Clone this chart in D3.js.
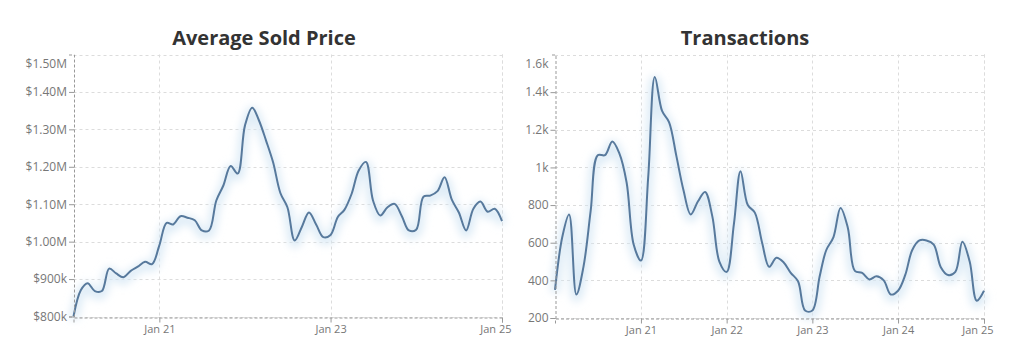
<!DOCTYPE html>
<html>
<head>
<meta charset="utf-8">
<script src="https://cdn.jsdelivr.net/npm/d3@7"></script>
<style>
  html, body { margin: 0; padding: 0; background: #fff; }
  svg { display: block; font-family: "Open Sans", sans-serif; }
</style>
</head>
<body>
<svg id="chart" width="1024" height="343"></svg>
<script>
// Monthly series, Jan 2020 – Jan 2025
const startMonth = new Date(2020, 0, 1);

// Average sold price, in $k
const priceValues = [
  800, 870, 889, 868, 868, 928, 915, 905, 922, 933, 946, 940,
  990, 1050, 1046, 1068, 1064, 1057, 1030, 1030, 1110, 1150, 1202, 1182,
  1310, 1358, 1325, 1270, 1212, 1130, 1092, 1003, 1040, 1078, 1045, 1012,
  1018, 1066, 1085, 1128, 1190, 1213, 1110, 1070, 1092, 1101, 1068, 1030,
  1032, 1120, 1123, 1135, 1172, 1112, 1078, 1030, 1088, 1107, 1080, 1088,
  1055
];

// Number of transactions
const transactionValues = [
  350, 630, 750, 325, 470, 770, 1065, 1065, 1138, 1075, 920, 590,
  505, 950, 1480, 1300, 1240, 1060, 880, 750, 820, 870, 740, 500,
  445, 700, 980, 800, 760, 600, 472, 520, 495, 440, 395, 240,
  240, 420, 560, 630, 785, 680, 450, 440, 405, 422, 400, 325,
  345, 430, 560, 612, 612, 590, 470, 428, 445, 605, 500, 292,
  345
];

const priceTicks = [800, 900, 1000, 1100, 1200, 1300, 1400, 1500];
const priceTickLabels = ["$800k", "$900k", "$1.00M", "$1.10M", "$1.20M", "$1.30M", "$1.40M", "$1.50M"];
const transactionTicks = [200, 400, 600, 800, 1000, 1200, 1400, 1600];
const transactionTickLabels = ["200", "400", "600", "800", "1k", "1.2k", "1.4k", "1.6k"];

const priceDateTicks = [new Date(2021, 0, 1), new Date(2023, 0, 1), new Date(2025, 0, 1)];
const transactionDateTicks = [2021, 2022, 2023, 2024, 2025].map(y => new Date(y, 0, 1));
const dateTickFormat = d3.timeFormat("Jan %y");

const svg = d3.select("#chart");

// Soft glow under the lines
const defs = svg.append("defs");
const glow = defs.append("filter").attr("id", "glow")
  .attr("x", "-10%").attr("y", "-20%").attr("width", "120%").attr("height", "140%");
glow.append("feGaussianBlur").attr("stdDeviation", 4);

function drawPanel(opts) {
  const { left, right, top, bottom, yMin, yMax, values, yTicks, yLabels, xTicks, title, titleX } = opts;
  const dates = values.map((_, i) => d3.timeMonth.offset(startMonth, i));
  const x = d3.scaleTime().domain([startMonth, new Date(2025, 0, 1)]).range([left, right]);
  const y = d3.scaleLinear().domain([yMin, yMax]).range([bottom, top]);
  const g = svg.append("g");

  // Title
  g.append("text")
    .attr("x", titleX).attr("y", 45)
    .attr("text-anchor", "middle")
    .attr("font-size", 20).attr("font-weight", 700)
    .attr("fill", "#333")
    .text(title);

  // Grid
  const grid = g.append("g").attr("stroke", "#dcdcdc").attr("stroke-dasharray", "3,3").attr("stroke-width", 1);
  yTicks.forEach(v => {
    grid.append("line").attr("x1", left).attr("x2", right)
      .attr("y1", Math.round(y(v)) + 0.5).attr("y2", Math.round(y(v)) + 0.5);
  });
  xTicks.forEach(d => {
    grid.append("line").attr("x1", Math.round(x(d)) + 0.5).attr("x2", Math.round(x(d)) + 0.5)
      .attr("y1", top).attr("y2", bottom);
  });
  grid.append("line").attr("x1", right + 0.5).attr("x2", right + 0.5).attr("y1", top).attr("y2", bottom);

  // Line with glow
  const line = d3.line()
    .x((d, i) => x(dates[i]))
    .y(d => y(d))
    .curve(d3.curveCatmullRom.alpha(0.5));
  g.append("path").datum(values)
    .attr("d", line)
    .attr("fill", "none")
    .attr("stroke", "#d6e7f5")
    .attr("stroke-width", 9)
    .attr("stroke-opacity", 0.85)
    .attr("transform", "translate(0,3)")
    .attr("filter", "url(#glow)");
  g.append("path").datum(values)
    .attr("d", line)
    .attr("fill", "none")
    .attr("stroke", "#57799c")
    .attr("stroke-width", 2)
    .attr("stroke-linejoin", "round");

  // Y axis
  const yAxis = d3.axisLeft(y).tickValues(yTicks).tickSize(5).tickPadding(2)
    .tickFormat((d, i) => yLabels[i]);
  const ya = g.append("g").attr("transform", `translate(${left + 0.5},0)`).call(yAxis);
  ya.select(".domain").attr("stroke", "#999").attr("stroke-dasharray", "3,2");
  ya.selectAll(".tick line").attr("stroke", "#999");
  ya.selectAll(".tick text").attr("fill", "#777").attr("font-size", 12)
    .attr("font-family", "Open Sans, sans-serif");
  // top label sits just inside the plot area, without a tick mark
  ya.selectAll(".tick").filter(d => d === yMax).each(function () {
    d3.select(this).select("line").remove();
    d3.select(this).select("text").attr("dy", "1.1em").attr("x", -7);
  });

  // X axis
  const xAxis = d3.axisBottom(x).tickValues(xTicks).tickSize(5).tickPadding(3).tickFormat(dateTickFormat);
  const xa = g.append("g").attr("transform", `translate(0,${Math.round(bottom) + 0.5})`).call(xAxis);
  xa.select(".domain").attr("stroke", "#999").attr("stroke-dasharray", "3,2");
  xa.selectAll(".tick line").attr("stroke", "#999");
  xa.selectAll(".tick text").attr("fill", "#777").attr("font-size", 11)
    .attr("font-family", "Open Sans, sans-serif");
  xa.selectAll(".tick").filter(d => +d === +new Date(2025, 0, 1)).select("text").attr("dx", "-0.6em");
}

drawPanel({
  left: 73.5, right: 502, top: 54.5, bottom: 316.5,
  yMin: 800, yMax: 1500,
  values: priceValues, yTicks: priceTicks, yLabels: priceTickLabels,
  xTicks: priceDateTicks, title: "Average Sold Price", titleX: 264
});

drawPanel({
  left: 555, right: 984, top: 54.5, bottom: 318,
  yMin: 200, yMax: 1600,
  values: transactionValues, yTicks: transactionTicks, yLabels: transactionTickLabels,
  xTicks: transactionDateTicks, title: "Transactions", titleX: 745
});
</script>
</body>
</html>
